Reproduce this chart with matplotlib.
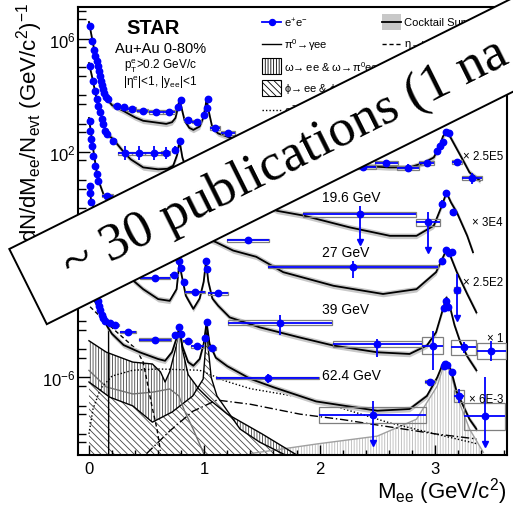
import math
import numpy as np
import matplotlib
matplotlib.use('Agg')
import matplotlib.pyplot as plt
from matplotlib.patches import Rectangle, Polygon
from matplotlib.lines import Line2D
from matplotlib.ticker import FixedLocator, FixedFormatter, NullFormatter, MultipleLocator

plt.rcParams['font.family'] = ['Liberation Sans', 'DejaVu Sans']
plt.rcParams['mathtext.fontset'] = 'custom'
plt.rcParams['mathtext.rm'] = 'Liberation Sans'
plt.rcParams['mathtext.it'] = 'Liberation Sans:italic'
plt.rcParams['mathtext.bf'] = 'Liberation Sans:bold'
plt.rcParams['mathtext.default'] = 'regular'
plt.rcParams['hatch.linewidth'] = 0.6

# ---------------- data (plotted, already scaled) ----------------
# group A (x 2.5E5)
A_m = [0.010, 0.030, 0.043, 0.055, 0.066, 0.075, 0.084, 0.095, 0.104, 0.113, 0.121, 0.130, 0.147, 0.168,
       0.24, 0.30, 0.37, 0.466, 0.581, 0.694, 0.775, 0.795, 0.856, 0.934, 1.000, 1.026, 1.030, 1.093, 1.208,
       2.38, 2.58, 2.77, 2.93, 3.015, 3.04, 3.07, 3.10, 3.12, 3.19, 3.32]
A_y = [2.95e6, 8.7e5, 4.17e5, 2.57e5, 1.70e5, 1.12e5, 7.6e4, 5.0e4, 3.3e4, 2.34e4, 1.70e4, 1.23e4, 8.9e3, 7.4e3,
       4.3e3, 3.8e3, 3.3e3, 2.9e3, 2.6e3, 2.6e3, 3.8e3, 7.1e3, 1.35e3, 1.17e3, 2.0e3, 3.5e3, 7.4e3, 690, 470,
       28, 40, 26, 39, 110, 166, 220, 490, 450, 45, 11.5]
A_dm = [0.002] * 14 + [0.03, 0.03, 0.04, 0.05, 0.06, 0.05, 0.01, 0.01, 0.03, 0.04, 0.01, 0.01, 0.01, 0.04, 0.06,
                       0.11, 0.10, 0.095, 0.065, 0.015, 0.012, 0.012, 0.012, 0.012, 0.045, 0.085]
A_lo = [0.02] * 14 + [0.04] * 15 + [0.12, 0.12, 0.14, 0.12, 0.08, 0.06, 0.06, 0.04, 0.04, 0.1, 0.2]
A_hi = A_lo
A_sys = [0.03] * 14 + [0.06] * 15 + [0.07] * 11
A_lim = []

# group B: 19.6 GeV (x 3E4)
B_m = [0.009, 0.032, 0.052, 0.066, 0.081, 0.095, 0.110, 0.124, 0.139, 0.153, 0.211, 0.31, 0.43, 0.56, 0.665,
       0.75, 0.79, 2.35, 2.94, 3.06, 3.096, 3.16]
B_y = [1.12e5, 3.3e4, 1.48e4, 7.4e3, 4.3e3, 2.5e3, 1.45e3, 980, 560, 430, 245, 89, 89, 89, 91, 120, 245,
       0.62, 0.32, 1.41, 3.5, 0.71]
B_dm = [0.002] * 10 + [0.02, 0.06, 0.06, 0.07, 0.04, 0.015, 0.01, 0.49, 0.10, 0.012, 0.012, 0.025]
B_lo = [0.02] * 10 + [0.05, 0.25, 0.25, 0.25, 0.2, 0.12, 0.08, 1.0, 1.0, 0.15, 0.08, 0.1]
B_hi = [0.02] * 10 + [0.05, 0.25, 0.25, 0.25, 0.2, 0.12, 0.08, 0.29, 0.36, 0.15, 0.08, 0.1]
B_sys = [0.03] * 10 + [0.06] * 7 + [0.09, 0.12, 0.06, 0.05, 0.07]
B_lim = [17, 18]

# group C: 27 GeV (x 2.5E2)
C_m = [0.005, 0.010, 0.017, 0.023, 0.037, 0.052, 0.066, 0.080, 0.16, 1.38, 2.29, 3.06, 3.096, 3.12, 3.146, 3.19]
C_y = [1.26e3, 560, 280, 166, 72, 32, 16, 9.5, 2.75, 0.074, 8.5e-3, 0.0138, 0.034, 0.026, 0.0275, 1.26e-3]
C_dm = [0.002] * 8 + [0.05, 0.18, 0.735, 0.02, 0.008, 0.008, 0.008, 0.025]
C_lo = [0.02] * 8 + [0.08, 0.1, 0.4, 0.1, 0.06, 0.06, 0.06, 1.0]
C_hi = [0.02] * 8 + [0.08, 0.1, 0.2, 0.1, 0.06, 0.06, 0.06, 0.57]
C_sys = [0.03] * 8 + [0.05, 0.05, 0.05, 0.07, 0.04, 0.04, 0.04, 0.09]
C_lim = [15]

# group D: 39 GeV (x 1)
D_m = [0.005, 0.010, 0.017, 0.57, 0.74, 0.785, 0.795, 0.82, 0.92, 1.015, 1.02, 1.12, 1.66, 2.50, 2.98,
       3.075, 3.095, 3.11, 3.25, 3.49]
D_y = [5.9, 3.4, 1.62, 3.3e-3, 4.3e-3, 0.0138, 7.9e-3, 2.45e-3, 1.1e-3, 0.0138, 6.9e-3, 9.5e-4, 8.7e-5,
       1.5e-5, 1.35e-5, 2.8e-4, 5.0e-4, 3.2e-4, 1.17e-5, 8.9e-6]
D_dm = [0.002] * 3 + [0.13, 0.035, 0.006, 0.006, 0.008, 0.09, 0.006, 0.006, 0.085, 0.45, 0.385, 0.09,
                      0.008, 0.008, 0.008, 0.11, 0.125]
D_lo = [0.02] * 3 + [0.05, 0.05, 0.04, 0.04, 0.05, 0.07, 0.04, 0.04, 0.07, 0.45, 0.46, 0.85, 0.06, 0.05, 0.06, 0.2, 0.35]
D_hi = [0.02] * 3 + [0.05, 0.05, 0.04, 0.04, 0.05, 0.07, 0.04, 0.04, 0.07, 0.26, 0.18, 0.52, 0.06, 0.05, 0.06, 0.2, 0.35]
D_sys = [0.03] * 3 + [0.04] * 9 + [0.09, 0.1, 0.31, 0.05, 0.05, 0.05, 0.27, 0.28]
D_lim = []

# group E: 62.4 GeV (x 6E-3)
E_m = [0.08, 0.09, 0.10, 0.11, 0.12, 0.139, 0.18, 0.225, 0.335, 0.575, 0.745, 0.78, 0.80, 0.856, 0.94, 1.006,
       1.02, 1.07, 1.55, 2.46, 2.96, 3.075, 3.09, 3.105, 3.146, 3.21, 3.43]
E_y = [5.25e-4, 3.55e-4, 2.4e-4, 1.66e-4, 1.26e-4, 1.02e-4, 8.5e-5, 7.2e-5, 4.0e-5, 2.2e-5, 3.2e-5, 6.3e-5,
       3.5e-5, 2.0e-5, 1.26e-5, 2.45e-5, 8.9e-5, 1.07e-5, 9.3e-7, 4.7e-8, 7.1e-7, 2.6e-6, 3.0e-6, 2.75e-6,
       1.5e-6, 2.2e-7, 4.2e-8]
E_dm = [0.002] * 5 + [0.005, 0.02, 0.035, 0.07, 0.14, 0.02, 0.006, 0.006, 0.04, 0.055, 0.006, 0.006, 0.035,
                      0.445, 0.465, 0.045, 0.007, 0.007, 0.007, 0.008, 0.045, 0.18]
E_lo = [0.02] * 5 + [0.03, 0.04, 0.04, 0.04, 0.05, 0.05, 0.05, 0.05, 0.06, 0.08, 0.06, 0.05, 0.08, 0.15, 1.0,
                     0.1, 0.06, 0.05, 0.05, 0.06, 0.25, 1.0]
E_hi = [0.02] * 5 + [0.03, 0.04, 0.04, 0.04, 0.05, 0.05, 0.05, 0.05, 0.06, 0.08, 0.06, 0.05, 0.08, 0.15, 0.51,
                     0.1, 0.06, 0.05, 0.05, 0.06, 0.25, 1.38]
E_sys = [0.03] * 5 + [0.04] * 13 + [0.04, 0.28, 0.05, 0.05, 0.05, 0.05, 0.05, 0.22, 0.48]
E_lim = [19, 26]

# cocktail sums
A_cm = [0.0, 0.03, 0.06, 0.1, 0.13, 0.16, 0.2, 0.3, 0.4, 0.47, 0.6, 0.67, 0.72, 0.75, 0.77, 0.785, 0.80, 0.83,
        0.87, 0.905, 0.96, 0.99, 1.01, 1.02, 1.035, 1.07, 1.12, 1.22, 2.35, 2.6, 2.78, 2.9, 2.99, 3.04, 3.07,
        3.10, 3.13, 3.19, 3.25, 3.30, 3.39]
A_cy = [4.0e6, 8.9e5, 2.0e5, 4.0e4, 1.26e4, 7.1e3, 4.5e3, 2.8e3, 1.66e3, 1.26e3, 1.07e3, 980, 1.12e3, 1.58e3,
        3.5e3, 7.6e3, 4.0e3, 1.26e3, 710, 600, 790, 1.58e3, 4.0e3, 7.6e3, 3.2e3, 710, 450, 320, 32, 28, 28, 40,
        63, 160, 355, 525, 355, 126, 45, 18.6, 9.5]
B_cm = [0.0, 0.03, 0.06, 0.1, 0.13, 0.16, 0.21, 0.3, 0.36, 0.47, 0.6, 0.68, 0.73, 0.765, 0.785, 0.81, 0.85,
        1.63, 1.86, 2.26, 2.61, 2.84, 2.99, 3.06, 3.10, 3.14, 3.19, 3.28, 3.33]
B_cy = [1.4e5, 4.0e4, 1.0e4, 2.5e3, 790, 420, 280, 100, 55, 28, 24, 25, 32, 79, 250, 63, 20,
        0.81, 0.55, 0.21, 0.105, 0.105, 0.24, 1.23, 3.6, 1.58, 0.71, 0.105, 0.0275]
C_cm = [0.0, 0.02, 0.04, 0.07, 0.09, 0.13, 0.2, 1.1, 1.25, 1.45, 1.685, 2.12, 2.55, 2.84, 3.01, 3.09, 3.10,
        3.13, 3.19, 3.28, 3.36]
C_cy = [1.58e3, 400, 100, 15.8, 7.9, 2.8, 1.4, 0.063, 0.0316, 0.019, 5.4e-3, 1.78e-3, 9.1e-4, 1.35e-3,
        5.4e-3, 0.0275, 0.034, 0.0224, 5.4e-3, 9.1e-4, 2.0e-4]
D_cm = [0.0, 0.01, 0.02, 0.385, 0.47, 0.60, 0.70, 0.76, 0.785, 0.80, 0.84, 0.905, 0.96, 0.995, 1.015, 1.035,
        1.07, 1.12, 1.22, 1.48, 1.83, 2.12, 2.5, 2.78, 2.93, 3.01, 3.07, 3.10, 3.13, 3.17, 3.22, 3.28, 3.36]
D_cy = [7.1, 4.0, 1.58, 2.7e-3, 1.35e-3, 6.0e-4, 5.2e-4, 1.35e-3, 0.0126, 5.0e-3, 7.9e-4, 2.7e-4, 6.3e-4,
        2.5e-3, 0.0132, 2.5e-3, 6.3e-4, 3.5e-4, 1.35e-4, 6.0e-5, 2.6e-5, 1.35e-5, 7.8e-6, 6.8e-6, 1.35e-5,
        4.0e-5, 2.7e-4, 6.9e-4, 3.2e-4, 7.1e-5, 1.78e-5, 5.6e-6, 1.78e-6]
E_cm = [0.07, 0.08, 0.12, 0.16, 0.2, 0.3, 0.44, 0.6, 0.66, 0.72, 0.76, 0.785, 0.81, 0.86, 0.905, 0.96, 0.995,
        1.02, 1.045, 1.1, 1.2, 1.4, 1.6, 1.97, 2.5, 2.78, 2.93, 3.02, 3.06, 3.10, 3.14, 3.19, 3.30, 3.36]
E_cy = [7.9e-4, 5.0e-4, 1.41e-4, 6.3e-5, 3.5e-5, 1.41e-5, 7.8e-6, 4.5e-6, 3.9e-6, 7.9e-6, 2.5e-5, 6.3e-5,
        1.26e-5, 3.5e-6, 2.6e-6, 4.5e-6, 1.58e-5, 8.9e-5, 1.58e-5, 5.0e-6, 2.5e-6, 8.9e-7, 4.5e-7, 1.41e-7,
        6.6e-8, 7.6e-8, 2.2e-7, 1.0e-6, 2.5e-6, 3.5e-6, 1.78e-6, 3.0e-7, 3.3e-8, 1.48e-8]

# cocktail components (62.4 GeV panel)
pi0_m = [0.0, 0.05, 0.1, 0.14, 0.17, 0.171]
pi0_y = [2.5e-3, 5.0e-4, 1.78e-4, 1.0e-4, 7.9e-5, 1.8e-9]
eta_m = [0.01, 0.1, 0.24, 0.41, 0.47, 0.50, 0.545, 0.59, 0.62]
eta_y = [3.2e-4, 1.41e-4, 4.1e-5, 1.0e-5, 3.5e-6, 8.7e-7, 1.0e-7, 1.48e-8, 2.5e-9]
omg_m = [0.0, 0.15, 0.38, 0.55, 0.62, 0.66, 0.70, 0.75, 0.785, 0.81, 0.86, 0.95, 1.05, 1.2, 1.5, 1.8]
omg_y = [2.0e-5, 7.9e-6, 3.5e-6, 3.0e-6, 1.58e-6, 6.9e-7, 1.58e-6, 1.0e-5, 5.6e-5, 1.0e-5, 1.26e-6, 4.0e-7,
         1.58e-7, 5.0e-8, 1.0e-8, 1.8e-9]
rho_m = [0.0, 0.15, 0.38, 0.55, 0.70, 0.78, 0.83, 0.9, 1.0]
rho_y = [1.78e-6, 4.6e-7, 2.6e-7, 3.0e-7, 3.9e-7, 2.2e-7, 6.3e-8, 1.58e-8, 1.8e-9]
phi_m = [0.0, 0.18, 0.38, 0.55, 0.72, 0.9, 0.99, 1.01, 1.02, 1.035, 1.06, 1.11, 1.31, 1.48, 1.7]
phi_y = [6.9e-7, 2.0e-7, 9.8e-8, 2.6e-8, 5.9e-8, 2.2e-7, 8.7e-7, 1.0e-5, 7.9e-5, 1.0e-5, 1.0e-6, 2.2e-7,
         1.48e-8, 5.1e-9, 1.8e-9]
ccb_m = [0.0, 0.035, 0.1, 0.2, 0.38, 0.6, 0.96, 1.2, 1.4, 1.83, 2.2, 2.6, 3.0, 3.36]
ccb_y = [1.0e-8, 7.6e-8, 4.0e-7, 1.12e-6, 1.8e-6, 2.0e-6, 1.8e-6, 7.1e-7, 4.0e-7, 2.0e-7, 7.9e-8, 2.5e-8,
         1.0e-8, 4.5e-9]
bbb_m = [0.5, 0.7, 0.9, 1.11, 1.4, 1.83, 2.2, 2.6, 3.0, 3.36]
bbb_y = [2.0e-9, 1.26e-8, 6.3e-8, 1.58e-7, 1.12e-7, 5.0e-8, 3.2e-8, 1.78e-8, 1.0e-8, 6.6e-9]
jps_m = [1.4, 1.98, 2.5, 2.84, 3.02, 3.07, 3.10, 3.14, 3.19, 3.3, 3.42]
jps_y = [2.0e-9, 4.4e-9, 8.3e-9, 3.3e-8, 5.0e-7, 2.24e-6, 3.2e-6, 1.26e-6, 2.2e-7, 1.48e-8, 2.2e-9]

# labels
energy_labels = ['19.6 GeV', '27 GeV', '39 GeV', '62.4 GeV']
scale_labels = ['\u00d7 2.5E5', '\u00d7 3E4', '\u00d7 2.5E2', '\u00d7 1', '\u00d7 6E-3']

# ---------------- figure ----------------
W, H = 513, 506
fig = plt.figure(figsize=(W / 100, H / 100), dpi=100)
ax = fig.add_axes([78 / W, 1 - 456 / H, (507 - 78) / W, (456 - 8) / H])
ax.set_yscale('log')
ax.set_xlim(-0.095, 3.625)
ax.set_ylim(10 ** -8.75, 10 ** 7.135)


def fp(x, y):
    return (x / W, 1 - y / H)


BOT = 1e-10
# component fills
ax.fill_between(jps_m, jps_y, BOT, facecolor='none', edgecolor='#b8b8b8', hatch='||||||', linewidth=0, zorder=0.5)
ax.fill_between(omg_m, omg_y, BOT, facecolor='white', edgecolor='#444444', hatch='||||||', linewidth=0, zorder=0.6)
ax.fill_between(phi_m, phi_y, BOT, facecolor='white', edgecolor='#444444', hatch='\\\\\\\\\\', linewidth=0, zorder=0.7)

ax.plot(jps_m, jps_y, color='#a0a0a0', lw=1.0, zorder=0.8)
ax.plot(omg_m, omg_y, color='black', lw=1.0, zorder=0.8)
ax.plot(phi_m, phi_y, color='black', lw=1.0, zorder=0.8)
ax.plot(rho_m, rho_y, color='#707070', lw=1.0, zorder=0.8)
ax.plot(pi0_m, pi0_y, color='black', lw=1.0, zorder=0.8)
ax.plot(eta_m, eta_y, color='black', lw=1.0, ls=(0, (3, 2)), zorder=0.8)
ax.plot(ccb_m, ccb_y, color='black', lw=1.0, ls=(0, (1, 1.5)), zorder=0.8)
ax.plot(bbb_m, bbb_y, color='black', lw=1.0, ls=(0, (6, 2, 1, 2)), zorder=0.8)

# cocktail sums
for cm, cy in [(A_cm, A_cy), (B_cm, B_cy), (C_cm, C_cy), (D_cm, D_cy), (E_cm, E_cy)]:
    cy = np.asarray(cy)
    ax.fill_between(cm, cy * 10 ** -0.1, cy * 10 ** 0.1, color='#c8c8c8', lw=0, zorder=1)
    ax.plot(cm, cy, color='black', lw=1.3, zorder=2)


def draw_group(m, y, dm, lo, hi, sy, lim):
    m = np.asarray(m, float); y = np.asarray(y, float); dm = np.asarray(dm, float)
    lo = np.asarray(lo, float); hi = np.asarray(hi, float); sy = np.asarray(sy, float)
    for i in range(len(m)):
        if dm[i] >= 0.008:
            ax.add_patch(Rectangle((m[i] - dm[i], y[i] * 10 ** -sy[i]), 2 * dm[i],
                                   y[i] * (10 ** sy[i] - 10 ** -sy[i]), fill=False,
                                   edgecolor='#7f7f7f', lw=0.9, zorder=3))
    ax.errorbar(m, y, xerr=dm, yerr=[y - y * 10 ** -lo, y * 10 ** hi - y], fmt='o', color='#0000ff',
                ms=4.6, elinewidth=1.3, capsize=0, zorder=5)
    for i in lim:
        ax.plot([m[i]], [y[i] * 10 ** -lo[i]], marker='v', color='#0000ff', ms=4, zorder=5)


draw_group(A_m, A_y, A_dm, A_lo, A_hi, A_sys, A_lim)
draw_group(B_m, B_y, B_dm, B_lo, B_hi, B_sys, B_lim)
draw_group(C_m, C_y, C_dm, C_lo, C_hi, C_sys, C_lim)
draw_group(D_m, D_y, D_dm, D_lo, D_hi, D_sys, D_lim)
draw_group(E_m, E_y, E_dm, E_lo, E_hi, E_sys, E_lim)

# axes styling
for s in ax.spines.values():
    s.set_linewidth(1.5)
ax.yaxis.set_major_locator(FixedLocator([1e-6, 1e-2, 1e2, 1e6]))
ax.yaxis.set_major_formatter(FixedFormatter([r'$10^{-6}$', r'$10^{-2}$', r'$10^{2}$', r'$10^{6}$']))
ax.yaxis.set_minor_locator(FixedLocator([10.0 ** k for k in range(-9, 8)] + [5 * 10.0 ** k for k in range(-9, 7)]))
ax.yaxis.set_minor_formatter(NullFormatter())
ax.xaxis.set_major_locator(FixedLocator([0, 1, 2, 3]))
ax.xaxis.set_minor_locator(MultipleLocator(0.2))
ax.tick_params(axis='y', which='major', direction='in', length=8.5, width=1.0, labelsize=12, pad=2)
ax.tick_params(axis='y', which='minor', direction='in', length=5.5, width=1.0)
ax.tick_params(axis='x', which='major', direction='in', length=7, width=1.0, labelsize=12, pad=4)
ax.tick_params(axis='x', which='minor', direction='in', length=3.6, width=1.0)

# text in axes area
fig.text(*fp(153, 29), 'STAR', fontsize=14.5, fontweight='bold', ha='center', va='center')
fig.text(*fp(161, 49), 'Au+Au 0-80%', fontsize=10.5, ha='center', va='center')
fig.text(*fp(160, 66), r'$p_{T}^{e}$>0.2 GeV/c', fontsize=8.5, ha='center', va='center')
fig.text(*fp(160, 83), r'|$\eta^{e}$|<1, |$y_{ee}$|<1', fontsize=8.5, ha='center', va='center')

for lab, yy in zip(energy_labels, [198, 253, 310, 376]):
    fig.text(*fp(322, yy), lab, fontsize=10, ha='left', va='center')
for lab, yy in zip(scale_labels, [157, 223, 283, 339, 400]):
    fig.text(*fp(503, yy), lab, fontsize=8.3, ha='right', va='center')

# legend (manual)
lfs = 8
ya = [23, 45, 67, 89, 111]
fig.add_artist(Line2D([262 / W, 281 / W], [fp(0, ya[0])[1]] * 2, color='#0000ff', lw=1.3))
fig.add_artist(Line2D([271.5 / W], [fp(0, ya[0])[1]], color='#0000ff', marker='o', ms=4.3))
fig.text(*fp(284, ya[0]), r'e$^{+}$e$^{-}$', fontsize=lfs, va='center')
fig.add_artist(Rectangle(fp(382, ya[0] + 8), 19 / W, 16 / H, transform=fig.transFigure,
                         facecolor='#c8c8c8', edgecolor='none'))
fig.add_artist(Line2D([382 / W, 401 / W], [fp(0, ya[0])[1]] * 2, color='black', lw=1.3))
fig.text(*fp(404, ya[0]), 'Cocktail Sum', fontsize=lfs, va='center')
fig.add_artist(Line2D([262 / W, 281 / W], [fp(0, ya[1])[1]] * 2, color='black', lw=1.0))
fig.text(*fp(284, ya[1]), r'$\pi^{0}\!\rightarrow\!\gamma$ee', fontsize=lfs, va='center')
fig.add_artist(Line2D([382 / W, 401 / W], [fp(0, ya[1])[1]] * 2, color='black', lw=1.0, ls=(0, (3, 2))))
fig.text(*fp(404, ya[1]), r'$\eta\!\rightarrow\!\gamma$ee', fontsize=lfs, va='center')
fig.add_artist(Rectangle(fp(262, ya[2] + 8), 19 / W, 16 / H, transform=fig.transFigure,
                         facecolor='white', edgecolor='black', lw=0.8, hatch='||||||'))
fig.text(*fp(284, ya[2]), r'$\omega\!\rightarrow$ee & $\omega\!\rightarrow\!\pi^{0}$ee', fontsize=lfs, va='center')
fig.add_artist(Rectangle(fp(262, ya[3] + 8), 19 / W, 16 / H, transform=fig.transFigure,
                         facecolor='white', edgecolor='black', lw=0.8, hatch='\\\\\\\\\\'))
fig.text(*fp(284, ya[3]), r'$\phi\!\rightarrow$ee & $\phi\!\rightarrow\!\eta$ee', fontsize=lfs, va='center')
fig.add_artist(Line2D([262 / W, 281 / W], [fp(0, ya[4])[1]] * 2, color='black', lw=1.0, ls=(0, (1, 1.5))))
fig.text(*fp(284, ya[4]), r'c$\bar{c}\!\rightarrow$ee', fontsize=lfs, va='center')

# axis titles
fig.text(*fp(30, 3), r'dN/dM$_{ee}$/N$_{evt}$ (GeV/c$^{2}$)$^{-1}$', rotation=90, ha='center', va='top',
         fontsize=16)
fig.text(*fp(507, 499), r'M$_{ee}$ (GeV/c$^{2}$)', ha='right', va='baseline', fontsize=16)

# banner
th = math.radians(26.5)
u = np.array([math.cos(th), -math.sin(th)])
v = np.array([math.sin(th), math.cos(th)])
P0 = np.array([9.3, 250.0])
Hb, Lb = 84.0, 720.0
corners = [P0, P0 + Lb * u, P0 + Lb * u + Hb * v, P0 + Hb * v]
fig.add_artist(Polygon([fp(*c) for c in corners], closed=True, transform=fig.transFigure,
                       facecolor='white', edgecolor='black', lw=1.4, zorder=100))
anchor = P0 + 43 * v + 42 * u
fig.text(*fp(*anchor), '~ 30 publications (1 na', rotation=26.5, rotation_mode='anchor',
         ha='left', va='center', fontsize=38.3, family='Liberation Serif', zorder=101)

fig.savefig('out.png', dpi=100)
